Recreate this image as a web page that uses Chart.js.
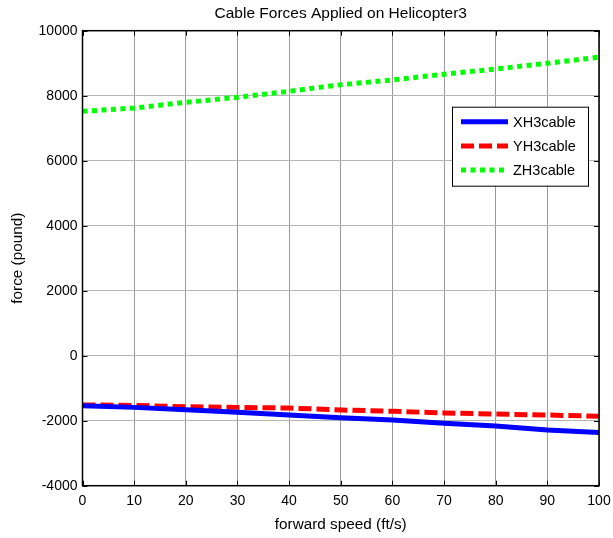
<!DOCTYPE html>
<html>
<head>
<meta charset="utf-8">
<script src="https://cdn.jsdelivr.net/npm/chart.js@4.4.1/dist/chart.umd.min.js"></script>
<style>
  html, body { margin:0; padding:0; background:#fff; }
  #wrap { width:613px; height:538px; }
</style>
</head>
<body>
<div id="wrap"><canvas id="c" width="613" height="538"></canvas></div>
<script>
  // forward speed (ft/s)
  const speeds = [0, 10, 20, 30, 40, 50, 60, 70, 80, 90, 100];
  // forces (pound)
  const xh3 = [-1540, -1590, -1660, -1740, -1825, -1910, -1980, -2080, -2160, -2285, -2360];
  const yh3 = [-1515, -1530, -1570, -1590, -1610, -1670, -1710, -1760, -1795, -1825, -1865];
  const zh3 = [7520, 7620, 7795, 7950, 8135, 8338, 8485, 8660, 8822, 8997, 9185];
  const seriesNames = ['XH3cable', 'YH3cable', 'ZH3cable'];
  const xTicks = [0, 10, 20, 30, 40, 50, 60, 70, 80, 90, 100];
  const yTicks = [-4000, -2000, 0, 2000, 4000, 6000, 8000, 10000];
  const titleText = 'Cable Forces Applied on Helicopter3';

  const pts = arr => speeds.map((s, i) => ({x: s, y: arr[i]}));
  const FONT = 'Arial, "Liberation Sans", Helvetica, sans-serif';

  // black frame, inward ticks, title and legend box like matlab
  const frame = {
    id: 'frame',
    afterDraw(chart) {
      const {ctx, chartArea: a, scales} = chart;
      ctx.save();
      ctx.strokeStyle = '#000';
      ctx.lineWidth = 1;
      ctx.beginPath();
      xTicks.forEach(v => {
        const px = Math.round(scales.x.getPixelForValue(v)) + 0.5;
        ctx.moveTo(px, a.bottom); ctx.lineTo(px, a.bottom - 5);
        ctx.moveTo(px, a.top); ctx.lineTo(px, a.top + 5);
      });
      yTicks.forEach(v => {
        const py = Math.round(scales.y.getPixelForValue(v)) + 0.5;
        ctx.moveTo(a.left, py); ctx.lineTo(a.left + 5, py);
        ctx.moveTo(a.right, py); ctx.lineTo(a.right - 5, py);
      });
      ctx.stroke();
      ctx.lineWidth = 1.5;
      ctx.strokeRect(a.left, a.top, a.right - a.left, a.bottom - a.top);

      // title over the plot centre
      ctx.fillStyle = '#000';
      ctx.font = '15.5px ' + FONT;
      ctx.textAlign = 'center';
      ctx.textBaseline = 'middle';
      ctx.fillText(titleText, (a.left + a.right) / 2, 14);

      // legend
      const bx = a.right - 147, by = a.top + 76, bw = 136, bh = 79;
      ctx.fillStyle = '#fff';
      ctx.fillRect(bx, by, bw, bh);
      ctx.lineWidth = 1;
      ctx.strokeStyle = '#000';
      ctx.strokeRect(bx + 0.5, by + 0.5, bw, bh);
      ctx.font = '14.5px ' + FONT;
      ctx.textAlign = 'left';
      chart.data.datasets.forEach((ds, i) => {
        const y = by + 15 + i * 24.2;
        ctx.strokeStyle = ds.borderColor;
        ctx.lineWidth = ds.borderWidth;
        ctx.setLineDash(ds.borderDash || []);
        ctx.beginPath();
        ctx.moveTo(bx + 9, y); ctx.lineTo(bx + 56, y);
        ctx.stroke();
        ctx.setLineDash([]);
        ctx.fillStyle = '#000';
        ctx.fillText(ds.label, bx + 61, y + 1);
      });
      ctx.restore();
    }
  };

  new Chart(document.getElementById('c'), {
    type: 'line',
    data: {
      datasets: [
        { label: seriesNames[0], data: pts(xh3), borderColor: '#0000ff', borderWidth: 5, pointRadius: 0, tension: 0 },
        { label: seriesNames[1], data: pts(yh3), borderColor: '#ff0000', borderWidth: 5, borderDash: [13, 5], pointRadius: 0, tension: 0 },
        { label: seriesNames[2], data: pts(zh3), borderColor: '#00ff00', borderWidth: 5, borderDash: [5, 4.5], pointRadius: 0, tension: 0 }
      ]
    },
    options: {
      responsive: false,
      animation: false,
      layout: { padding: { left: 0, right: 14, top: 30.7, bottom: 0 } },
      plugins: {
        legend: { display: false },
        tooltip: { enabled: false },
        title: { display: false }
      },
      scales: {
        x: {
          type: 'linear', min: 0, max: 100,
          afterFit(s) { s.height = 52.3; s.paddingRight = 0; },
          afterBuildTicks(s) { s.ticks = xTicks.map(v => ({value: v})); },
          grid: { color: '#9a9a9a', drawTicks: false },
          border: { display: false },
          ticks: { color: '#000', font: { family: FONT, size: 14 }, padding: 7, maxRotation: 0, callback: v => String(v) },
          title: { display: true, text: 'forward speed (ft/s)', color: '#000', font: { family: FONT, size: 15.3 }, padding: { top: 0, bottom: 3.8 } }
        },
        y: {
          min: -4000, max: 10000,
          afterFit(s) { s.width = 82.5; },
          afterBuildTicks(s) { s.ticks = yTicks.map(v => ({value: v})); },
          grid: { color: '#b4b4b4', drawTicks: false },
          border: { display: false },
          ticks: { color: '#000', font: { family: FONT, size: 14 }, padding: 5, callback: v => String(v) },
          title: { display: true, text: 'force (pound)', color: '#000', font: { family: FONT, size: 15.3 }, padding: { top: 8.8, bottom: 0 } }
        }
      }
    },
    plugins: [frame]
  });
</script>
</body>
</html>
